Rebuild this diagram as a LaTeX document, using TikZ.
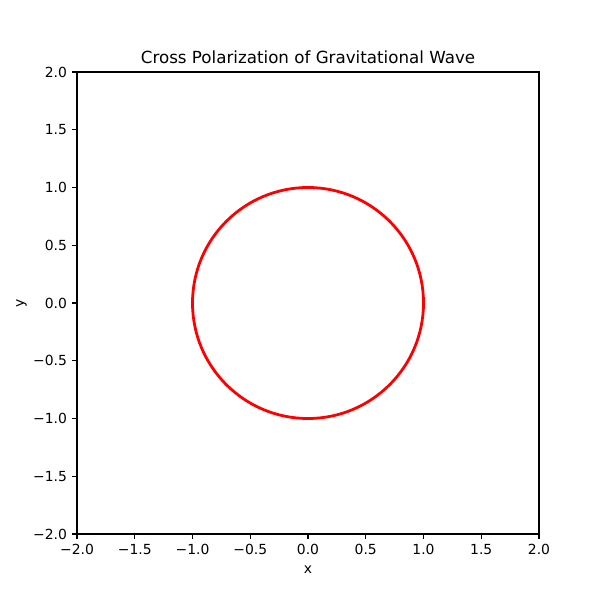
\documentclass[tikz,border=0pt]{standalone}
\usepackage{fontspec}
\setmainfont{DejaVu Sans}
\begin{document}
\begin{tikzpicture}[x=1pt,y=1pt,
  ticklab/.style={font=\fontsize{13.9}{16}\selectfont, inner sep=0pt},
  axline/.style={line width=1.1pt},
  tickmark/.style={line width=1.1pt},
  curve/.style={draw=red, line width=2.78pt}]
\useasboundingbox (0,0) rectangle (600,600);
\fill[white] (0,0) rectangle (600,600);
% axes frame
\coordinate (ll) at (77,66);
\coordinate (ur) at (539,528);
\draw[axline] (ll) rectangle (ur);
% x ticks
\foreach \p/\t in {77/−2.0, 134.75/−1.5, 192.5/−1.0, 250.25/−0.5, 308/0.0, 365.75/0.5, 423.5/1.0, 481.25/1.5, 539/2.0}{
  \coordinate (xt) at (\p,66);
  \draw[tickmark] (xt) -- ++(0,-4.9);
  \node[ticklab, anchor=north] (xl) at (\p,56.2) {\t};
}
% y ticks
\foreach \p/\t in {66/−2.0, 123.75/−1.5, 181.5/−1.0, 239.25/−0.5, 297/0.0, 354.75/0.5, 412.5/1.0, 470.25/1.5, 528/2.0}{
  \coordinate (yt) at (77,\p);
  \draw[tickmark] (yt) -- ++(-4.9,0);
  \node[ticklab, anchor=east] (yl) at (67.2,\p) {\t};
}
% circle
\coordinate (c) at (308,297);
\draw[curve] (c) circle[radius=115.5];
% labels
\node[font=\fontsize{16.7}{20}\selectfont, inner sep=0pt, anchor=base] (title) at (308,536.3) {Cross Polarization of Gravitational Wave};
\node[ticklab, anchor=base] (xlab) at (308,27) {x};
\node[ticklab, anchor=base, rotate=90] (ylab) at (24,297) {y};
\end{tikzpicture}
\end{document}
